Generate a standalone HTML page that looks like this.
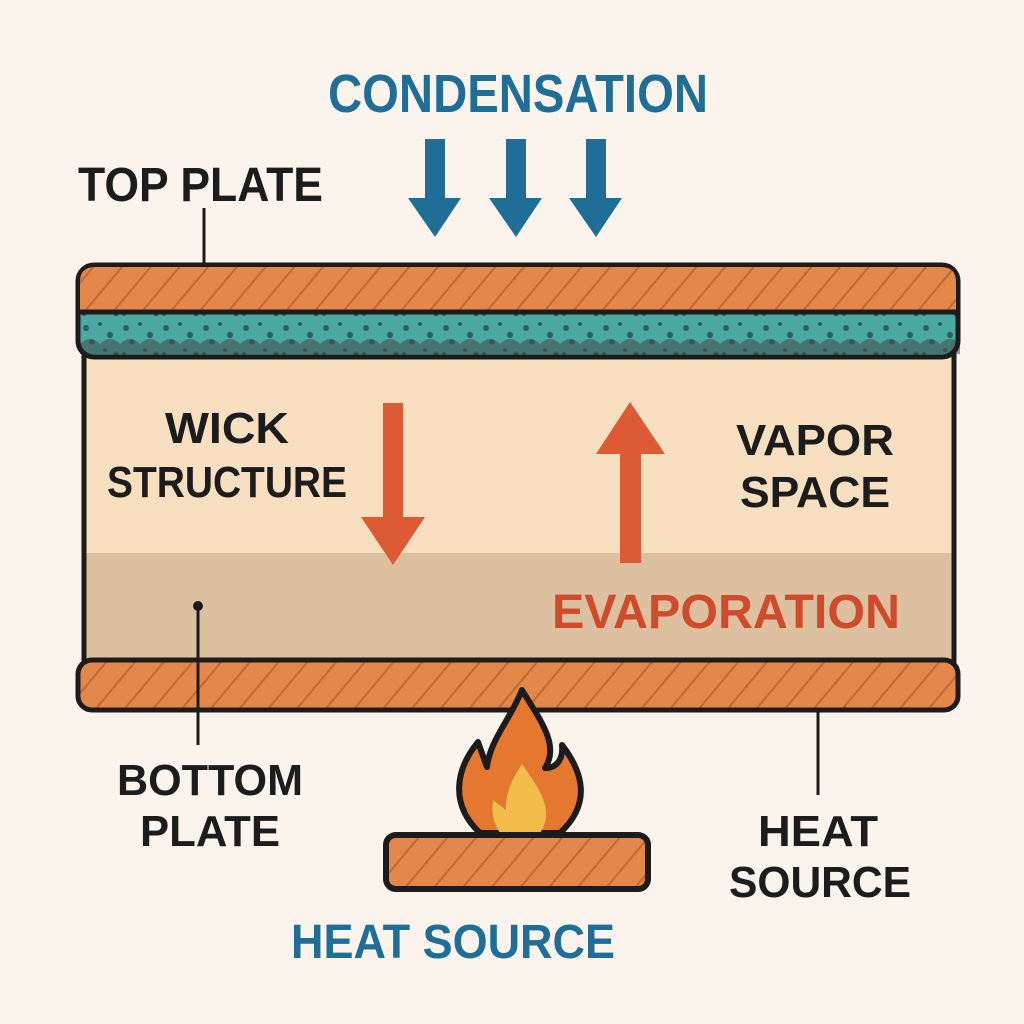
<!DOCTYPE html>
<html><head><meta charset="utf-8"><style>
html,body{margin:0;padding:0;background:#fbf4ec;}
svg{display:block}
text{font-family:"Liberation Sans",sans-serif;font-weight:bold;}
</style></head><body>
<svg width="1024" height="1024" viewBox="0 0 1024 1024" xmlns="http://www.w3.org/2000/svg">
<defs>
<pattern id="hatch" patternUnits="userSpaceOnUse" width="22" height="22" patternTransform="rotate(40)">
<rect width="22" height="22" fill="#e4874a"/>
<rect width="2" height="22" fill="#b8602e" opacity="0.8"/>
</pattern>
<pattern id="dots" patternUnits="userSpaceOnUse" width="40" height="40">
<rect width="40" height="40" fill="#4aa9a2"/>
<circle cx="6" cy="8" r="3" fill="#2f5e5a"/><circle cx="20" cy="4" r="2" fill="#2f5e5a"/>
<circle cx="30" cy="15" r="3" fill="#2f5e5a"/><circle cx="12" cy="22" r="2.5" fill="#2f5e5a"/>
<circle cx="25" cy="30" r="2" fill="#2f5e5a"/><circle cx="36" cy="34" r="2.5" fill="#2f5e5a"/>
<circle cx="4" cy="34" r="2" fill="#2f5e5a"/>
</pattern>
</defs>
<rect width="1024" height="1024" fill="#fbf4ec"/>

<text x="328" y="112" font-size="54" fill="#1f6e98" textLength="380" lengthAdjust="spacingAndGlyphs">CONDENSATION</text>
<g fill="#1f6e98">
<path d="M425 139h20v59h16l-26 39l-27-39h17z"/>
<path d="M506 139h20v59h16l-26 39l-27-39h17z"/>
<path d="M586 139h20v59h16l-26 39l-27-39h17z"/>
</g>
<text x="78" y="201" font-size="48" fill="#1c1c1c" textLength="245" lengthAdjust="spacingAndGlyphs">TOP PLATE</text>
<line x1="204" y1="208" x2="204" y2="264" stroke="#1c1c1c" stroke-width="3"/>

<rect x="84" y="350" width="870" height="205" fill="#f8dfc0"/>
<rect x="84" y="553" width="870" height="110" fill="#dcc0a0"/>
<line x1="84" y1="350" x2="84" y2="665" stroke="#1c1c1c" stroke-width="5"/>
<line x1="954" y1="350" x2="954" y2="665" stroke="#1c1c1c" stroke-width="5"/>

<rect x="78" y="265" width="880" height="92" rx="16" fill="url(#dots)"/>
<path d="M80 354 V344 q10 -10 20 0 q10 -10 20 0 q10 -10 20 0 q10 -10 20 0 q10 -10 20 0 q10 -10 20 0 q10 -10 20 0 q10 -10 20 0 q10 -10 20 0 q10 -10 20 0 q10 -10 20 0 q10 -10 20 0 q10 -10 20 0 q10 -10 20 0 q10 -10 20 0 q10 -10 20 0 q10 -10 20 0 q10 -10 20 0 q10 -10 20 0 q10 -10 20 0 q10 -10 20 0 q10 -10 20 0 q10 -10 20 0 q10 -10 20 0 q10 -10 20 0 q10 -10 20 0 q10 -10 20 0 q10 -10 20 0 q10 -10 20 0 q10 -10 20 0 q10 -10 20 0 q10 -10 20 0 q10 -10 20 0 q10 -10 20 0 q10 -10 20 0 q10 -10 20 0 q10 -10 20 0 q10 -10 20 0 q10 -10 20 0 q10 -10 20 0 q10 -10 20 0 q10 -10 20 0 q10 -10 20 0 q10 -10 20 0 V354 H80z" fill="#3f4a48" opacity="0.55"/>
<rect x="78" y="265" width="880" height="92" rx="16" fill="none" stroke="#1c1c1c" stroke-width="5"/>
<path d="M80 312 V282 q0 -15 15 -15 H941 q15 0 15 15 V312 z" fill="url(#hatch)"/>
<line x1="78" y1="312" x2="958" y2="312" stroke="#1c1c1c" stroke-width="5"/>

<rect x="78" y="660" width="880" height="50" rx="14" fill="url(#hatch)" stroke="#1c1c1c" stroke-width="5"/>

<text x="227" y="443" font-size="44" fill="#1c1c1c" text-anchor="middle" textLength="124" lengthAdjust="spacingAndGlyphs">WICK</text>
<text x="227" y="497" font-size="44" fill="#1c1c1c" text-anchor="middle" textLength="240" lengthAdjust="spacingAndGlyphs">STRUCTURE</text>
<text x="815" y="455" font-size="44" fill="#1c1c1c" text-anchor="middle" textLength="158" lengthAdjust="spacingAndGlyphs">VAPOR</text>
<text x="815" y="507" font-size="44" fill="#1c1c1c" text-anchor="middle" textLength="150" lengthAdjust="spacingAndGlyphs">SPACE</text>
<text x="552" y="628" font-size="48" fill="#d04a2c" textLength="348" lengthAdjust="spacingAndGlyphs">EVAPORATION</text>

<g fill="#dd5a34">
<path d="M383 403h20v114h22l-32 48l-32-48h22z"/>
<path d="M630 402l35 52h-24v109h-21v-109h-24z"/>
</g>

<circle cx="198" cy="606" r="5" fill="#1c1c1c"/>
<line x1="198" y1="606" x2="198" y2="745" stroke="#1c1c1c" stroke-width="3"/>
<line x1="818" y1="712" x2="818" y2="795" stroke="#1c1c1c" stroke-width="3"/>

<text x="210" y="795" font-size="44" fill="#1c1c1c" text-anchor="middle" textLength="186" lengthAdjust="spacingAndGlyphs">BOTTOM</text>
<text x="210" y="846" font-size="44" fill="#1c1c1c" text-anchor="middle" textLength="140" lengthAdjust="spacingAndGlyphs">PLATE</text>
<text x="818" y="846" font-size="44" fill="#1c1c1c" text-anchor="middle" textLength="120" lengthAdjust="spacingAndGlyphs">HEAT</text>
<text x="820" y="897" font-size="44" fill="#1c1c1c" text-anchor="middle" textLength="182" lengthAdjust="spacingAndGlyphs">SOURCE</text>

<path d="M522 690 C540 720 560 745 545 768 C560 768 563 755 562 745 C585 775 590 805 560 833 H480 C450 805 455 770 478 742 L487 767 C490 740 510 720 522 690z" fill="#e5782e" stroke="#1c1c1c" stroke-width="6" stroke-linejoin="round"/>
<path d="M522 764 C540 790 555 810 540 833 H500 C492 820 492 812 493 800 L506 810 C506 790 512 780 522 764z" fill="#f3bd4c"/>

<rect x="386" y="835" width="262" height="54" rx="10" fill="url(#hatch)" stroke="#1c1c1c" stroke-width="6"/>

<text x="453" y="958" font-size="48" fill="#1f6e98" text-anchor="middle" textLength="324" lengthAdjust="spacingAndGlyphs">HEAT SOURCE</text>
</svg>
</body></html>
